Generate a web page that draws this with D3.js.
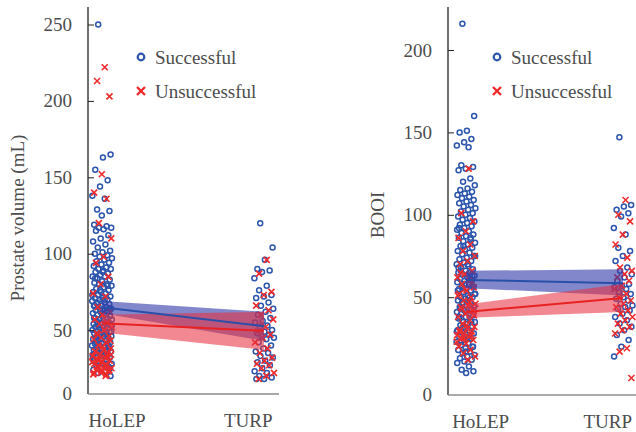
<!DOCTYPE html>
<html>
<head>
<meta charset="utf-8">
<script src="https://cdn.jsdelivr.net/npm/d3@7"></script>
<style>
  body { margin: 0; background: #fff; }
  svg text { font-family: "Liberation Serif", "DejaVu Serif", serif; }
</style>
</head>
<body>
<div id="chart"></div>
<script>
// Categories and legend
var groups = ["HoLEP", "TURP"];
var legendLabels = ["Successful", "Unsuccessful"];

// Prostate volume (mL) values
var pvHolepSuccess = [250,165,163,155,148,144,138,136,129,128,125,119,118,117,117,116,115,112,110,108,106,104,102,101,100,99,98,97,96,95,94,93,92,91,90,90,89,88,87,86,85,85,84,83,82,81,80,80,79,78,77,76,75,75,74,73,72,72,71,70,70,69,68,68,67,66,66,65,65,64,63,63,62,62,61,60,60,59,59,58,58,57,57,56,56,55,55,54,54,53,53,52,52,51,51,50,50,49,49,48,48,47,47,46,46,45,45,44,44,43,43,42,42,41,41,40,40,39,39,38,38,37,37,36,36,35,35,34,34,33,33,32,32,31,30,30,29,28,28,27,26,25,24,23,22,20,
  88,84,79,76,73,70,67,64,61,58,55,52,49,46,43,40,37,34,31,28,25,71,66,62,57,53,48,44,39,35,30,26];
var pvHolepFail = [222,213,203,152,140,136,120,110,98,94,85,80,74,72,65,62,60,57,55,54,52,50,48,46,45,44,42,40,38,37,36,35,34,33,32,31,30,29,28,27,26,25,25,24,23,22,21,20,
  47,43,39,36,33,31,29,27,26,24,23,22,21,30,34];
var pvTurpSuccess = [120,104,96,90,89,88,84,79,76,73,72,71,68,66,64,62,60,58,56,55,53,52,50,49,48,47,46,45,44,42,40,38,36,35,33,32,30,29,27,25,23,22,20,19,18,18];
var pvTurpFail = [96,87,75,73,66,63,60,57,52,49,47,45,42,38,35,32,30,28,27,25,22,20,18];

// Fitted lines with confidence bands (HoLEP, TURP)
var pvFitSuccess = [65, 52.5];
var pvLowSuccess = [61, 43];
var pvHighSuccess = [69, 62];
var pvFitFail = [54.5, 49.5];
var pvLowFail = [48.5, 37];
var pvHighFail = [60, 62];
var pvTicks = [50, 100, 150, 200, 250];

// BOOI values
var booiHolepSuccess = [216,160,151,150,146,144,142,141,130,129,128,127,122,120,118,116,115,114,113,112,111,110,109,108,107,106,105,104,103,102,101,100,99,98,97,96,95,94,93,92,91,90,89,88,87,86,85,84,83,82,81,80,79,78,77,76,75,74,73,72,71,70,69,68,67,66,65,65,64,63,62,61,60,60,59,58,57,56,55,55,54,53,52,51,50,50,49,48,47,46,45,45,44,43,42,41,40,40,39,38,37,36,35,35,34,33,32,31,30,30,29,28,27,26,25,24,23,22,21,20,19,18,17,16,15,14,13,12,11,10,8,6,5,4,
  92,86,81,75,70,66,63,58,54,50,47,44,41,38,35,32,29,26,23,20,17,68,61,56,52,48,43];
var booiHolepFail = [128,101,96,90,86,82,78,75,72,70,66,64,62,60,58,56,54,52,50,48,46,45,44,42,40,38,36,34,32,31,30,29,28,27,26,25,24,22,20,18,16,14,12,
  65,59,55,51,47,43,39,33,29,27,25,23];
var booiTurpSuccess = [147,106,105,103,101,99,92,88,80,78,75,72,68,66,64,62,60,58,57,56,55,53,52,50,49,48,46,45,44,43,42,40,38,36,34,32,30,27,24,20,14];
var booiTurpFail = [109,100,96,88,82,74,68,66,64,62,60,57,55,52,50,48,46,44,42,40,38,36,34,32,30,28,19,17,1];

var booiFitSuccess = [60.5, 58.5];
var booiLowSuccess = [55.5, 51];
var booiHighSuccess = [66, 67];
var booiFitFail = [41, 49.5];
var booiLowFail = [37.5, 41];
var booiHighFail = [45.5, 58];
var booiTicks = [50, 100, 150, 200];

var blue = "#2c55ad";
var red = "#f02a2a";
var textColor = "#4d4d4d";

var svg = d3.select("#chart")
  .append("svg")
  .attr("width", 636)
  .attr("height", 432);

// deterministic spread of points around a category
function jitter(i) {
  return ((i * 0.618034 + 0.31) % 1) - 0.5;
}

function drawPanel(p) {
  var g = svg.append("g");

  var xScale = d3.scaleLinear().domain([0, 1]).range(p.xRange);
  var yScale = d3.scaleLinear().domain([0, p.yTop]).range([p.yZero, p.yTopPx]);

  // points
  var pts = [];
  [p.holepS, p.turpS].forEach(function(arr, gi) {
    arr.forEach(function(v, i) { pts.push({ g: gi, v: v, i: i }); });
  });
  var crosses = [];
  [p.holepF, p.turpF].forEach(function(arr, gi) {
    arr.forEach(function(v, i) { crosses.push({ g: gi, v: v, i: i + 7 }); });
  });

  g.selectAll(".pt")
    .data(pts)
    .enter()
    .append("circle")
    .attr("class", "pt")
    .attr("cx", function(d) { return xScale(d.g) + jitter(d.i) * p.spread; })
    .attr("cy", function(d) { return yScale(d.v); })
    .attr("r", 2.5)
    .attr("fill", "none")
    .attr("stroke", blue)
    .attr("stroke-width", 1.5);

  var cs = 3;
  g.selectAll(".cx")
    .data(crosses)
    .enter()
    .append("path")
    .attr("class", "cx")
    .attr("transform", function(d) {
      return "translate(" + (xScale(d.g) + jitter(d.i) * p.spread) + "," + yScale(d.v) + ")";
    })
    .attr("d", "M" + -cs + "," + -cs + "L" + cs + "," + cs + "M" + -cs + "," + cs + "L" + cs + "," + -cs)
    .attr("stroke", red)
    .attr("stroke-width", 1.6);

  // confidence bands
  var area = d3.area()
    .x(function(d, i) { return xScale(i); })
    .y0(function(d) { return yScale(d[0]); })
    .y1(function(d) { return yScale(d[1]); });

  g.append("path")
    .datum([[p.lowS[0], p.highS[0]], [p.lowS[1], p.highS[1]]])
    .attr("d", area)
    .attr("fill", "rgba(52,62,170,0.62)");

  g.append("path")
    .datum([[p.lowF[0], p.highF[0]], [p.lowF[1], p.highF[1]]])
    .attr("d", area)
    .attr("fill", "rgba(232,50,66,0.58)");

  var line = d3.line()
    .x(function(d, i) { return xScale(i); })
    .y(function(d) { return yScale(d); });

  g.append("path")
    .datum(p.fitS)
    .attr("d", line)
    .attr("fill", "none")
    .attr("stroke", "#2a4fa8")
    .attr("stroke-width", 2);

  g.append("path")
    .datum(p.fitF)
    .attr("d", line)
    .attr("fill", "none")
    .attr("stroke", "#e82222")
    .attr("stroke-width", 2);

  // y axis
  var yAxis = g.append("g")
    .attr("transform", "translate(" + p.axisX + ",0)")
    .call(d3.axisLeft(yScale).tickValues(p.ticks).tickSize(-6).tickPadding(16));
  yAxis.select(".domain").remove();
  yAxis.selectAll("line").attr("stroke", "#222").attr("stroke-width", 1);
  yAxis.selectAll("text")
    .attr("fill", textColor)
    .style("font-size", "19px")
    .style("font-family", "Liberation Serif");

  g.append("text")
    .attr("x", p.axisX - 16)
    .attr("y", p.baseY)
    .attr("dy", "0.32em")
    .attr("text-anchor", "end")
    .attr("fill", textColor)
    .style("font-size", "19px")
    .text("0");

  g.append("line")
    .attr("x1", p.axisX).attr("x2", p.axisX)
    .attr("y1", 7).attr("y2", p.baseY)
    .attr("stroke", "#222")
    .attr("stroke-width", 1.3);

  // x axis
  var xAxis = g.append("g")
    .attr("transform", "translate(0," + p.baseY + ")")
    .call(d3.axisBottom(xScale).tickValues([0.09, 0.9]).tickSize(0).tickPadding(20)
      .tickFormat(function(d, i) { return groups[i]; }));
  xAxis.select(".domain").remove();
  xAxis.selectAll("text")
    .attr("fill", textColor)
    .style("font-size", "19px")
    .style("font-family", "Liberation Serif");

  g.append("line")
    .attr("x1", p.axisX).attr("x2", p.xEnd)
    .attr("y1", p.baseY).attr("y2", p.baseY)
    .attr("stroke", "#8c8c8c")
    .attr("stroke-width", 1.6);

  // y title
  g.append("text")
    .attr("transform", "translate(" + p.titleX + "," + p.titleY + ") rotate(-90)")
    .attr("text-anchor", "middle")
    .attr("fill", textColor)
    .style("font-size", "19px")
    .text(p.title);

  // legend
  g.append("circle")
    .attr("cx", p.legX).attr("cy", 57)
    .attr("r", 3.3)
    .attr("fill", "none")
    .attr("stroke", blue)
    .attr("stroke-width", 2.2);
  var ls = 4;
  g.append("path")
    .attr("transform", "translate(" + p.legX + ",91)")
    .attr("d", "M" + -ls + "," + -ls + "L" + ls + "," + ls + "M" + -ls + "," + ls + "L" + ls + "," + -ls)
    .attr("stroke", red)
    .attr("stroke-width", 2.4);

  g.selectAll(".leg")
    .data(legendLabels)
    .enter()
    .append("text")
    .attr("x", p.legX + 14)
    .attr("y", function(d, i) { return 57 + i * 34; })
    .attr("dy", "0.35em")
    .attr("fill", textColor)
    .style("font-size", "19px")
    .text(function(d) { return d; });
}

drawPanel({
  holepS: pvHolepSuccess, holepF: pvHolepFail, turpS: pvTurpSuccess, turpF: pvTurpFail,
  fitS: pvFitSuccess, lowS: pvLowSuccess, highS: pvHighSuccess,
  fitF: pvFitFail, lowF: pvLowFail, highF: pvHighFail,
  ticks: pvTicks, yTop: 250, yZero: 406.5, yTopPx: 24.5,
  xRange: [102, 264], spread: 20, axisX: 88, xEnd: 279, baseY: 394,
  title: "Prostate volume (mL)", titleX: 24, titleY: 218, legX: 141
});

drawPanel({
  holepS: booiHolepSuccess, holepF: booiHolepFail, turpS: booiTurpSuccess, turpF: booiTurpFail,
  fitS: booiFitSuccess, lowS: booiLowSuccess, highS: booiHighSuccess,
  fitF: booiFitFail, lowF: booiLowFail, highF: booiHighFail,
  ticks: booiTicks, yTop: 200, yZero: 379.6, yTopPx: 50,
  xRange: [466, 623], spread: 19, axisX: 448, xEnd: 636, baseY: 395,
  title: "BOOI", titleX: 384, titleY: 215, legX: 497
});
</script>
</body>
</html>
